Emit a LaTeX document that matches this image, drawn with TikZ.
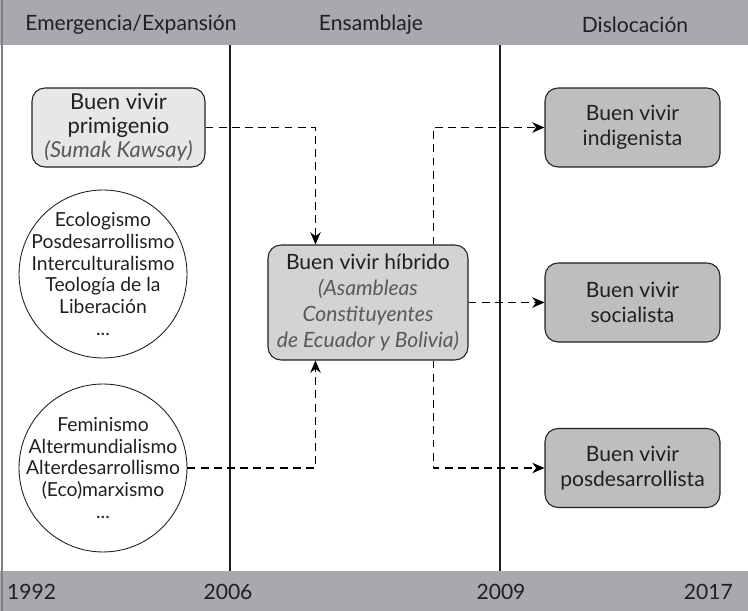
\documentclass[tikz,border=0pt]{standalone}
\usepackage{fontspec}
\setmainfont{Lato}
\usetikzlibrary{positioning,arrows.meta}

\definecolor{bandgray}{HTML}{A7A9AC}
\definecolor{boxlight}{HTML}{E6E7E8}
\definecolor{boxmid}{HTML}{D1D3D4}
\definecolor{boxdark}{HTML}{BCBEC0}
\definecolor{inkgray}{HTML}{231F20}
\definecolor{italgray}{HTML}{58595B}

\newcommand{\cursiva}[1]{{\itshape\color{italgray}#1}}

\tikzset{
  txt/.style={font=\fontsize{12}{14}\selectfont, text=inkgray, align=center},
  ringtxt/.style={font=\fontsize{11}{12.4}\selectfont, text=inkgray, align=center},
  box/.style={txt, draw=inkgray, line width=0.6pt, rounded corners=0.26cm, inner sep=2pt},
  ring/.style={draw=inkgray, line width=0.5pt, circle, minimum size=3.36cm, inner sep=0pt},
  flow/.style={line width=0.6pt, dash pattern=on 4.5pt off 3pt, -{Stealth[length=7pt,width=6pt]}},
  era/.style={line width=0.6pt, draw=inkgray},
}

\begin{document}
\begin{tikzpicture}[x=0.02cm, y=-0.02cm]
    \useasboundingbox (0,0) rectangle (748,611);

    % Header and footer bands
    \fill[bandgray] (0,0) rectangle (748,45);
    \fill[bandgray] (0,571) rectangle (748,611);
    \draw[line width=0.8pt, gray] (2,0) -- (2,611);

    % Period titles
    \node[txt] (emerg) at (131,25) {Emergencia/Expansión};
    \node[txt] (ensam) at (371,25) {Ensamblaje};
    \node[txt] (disloc) at (635,25) {Dislocación};

    % Years
    \node[txt, anchor=west] (y1992) at (1,592) {1992};
    \node[txt] (y2006) at (228,592) {2006};
    \node[txt] (y2009) at (501,592) {2009};
    \node[txt, anchor=east] (y2017) at (739,592) {2017};

    % Period separators
    \draw[era] (230,45) -- (230,571);
    \draw[era] (500,45) -- (500,571);

    % Origins
    \node[box, fill=boxlight, font=\fontsize{12.5}{13.5}\selectfont, minimum width=3.46cm, minimum height=1.58cm] (prim) at (118.5,127.5)
      {Buen vivir\\primigenio\\\cursiva{(Sumak Kawsay)}};
    \node[ring] (eco) at (103,274) {};
    \node[ringtxt] (ecotxt) at (eco) {Ecologismo\\Posdesarrollismo\\Interculturalismo\\Teología de la\\Liberación\\...};
    \node[ring] (fem) at (103,468) {};
    \node[ringtxt] (femtxt) at (fem) {Feminismo\\Altermundialismo\\Alterdesarrollismo\\(Eco)marxismo\\...};

    % Assembly
    \node[box, fill=boxmid, font=\fontsize{12}{14.8}\selectfont, minimum width=4.0cm, minimum height=2.3cm] (hibrido) at (368,302.5)
      {Buen vivir híbrido\\\cursiva{(Asambleas}\\\cursiva{Constituyentes}\\\cursiva{de Ecuador y Bolivia)}};

    % Dislocation
    \node[box, fill=boxdark, minimum width=3.5cm, minimum height=1.58cm] (indig) at (632.5,127.5) {Buen vivir\\indigenista};
    \node[box, fill=boxdark, minimum width=3.5cm, minimum height=1.58cm] (social) at (632.5,302.5) {Buen vivir\\socialista};
    \node[box, fill=boxdark, minimum width=3.5cm, minimum height=1.58cm] (posdes) at (632.5,468) {Buen vivir\\posdesarrollista};

    % Flows
    \draw[flow] (prim.east) -| ([xshift=0.96cm]hibrido.north west);
    \draw[flow] (fem.east) -| ([xshift=0.96cm]hibrido.south west);
    \draw[flow] ([xshift=-0.7cm]hibrido.north east) |- (indig.west);
    \draw[flow] (hibrido.east) -- (social.west);
    \draw[flow] ([xshift=-0.7cm]hibrido.south east) |- (posdes.west);

\end{tikzpicture}
\end{document}
